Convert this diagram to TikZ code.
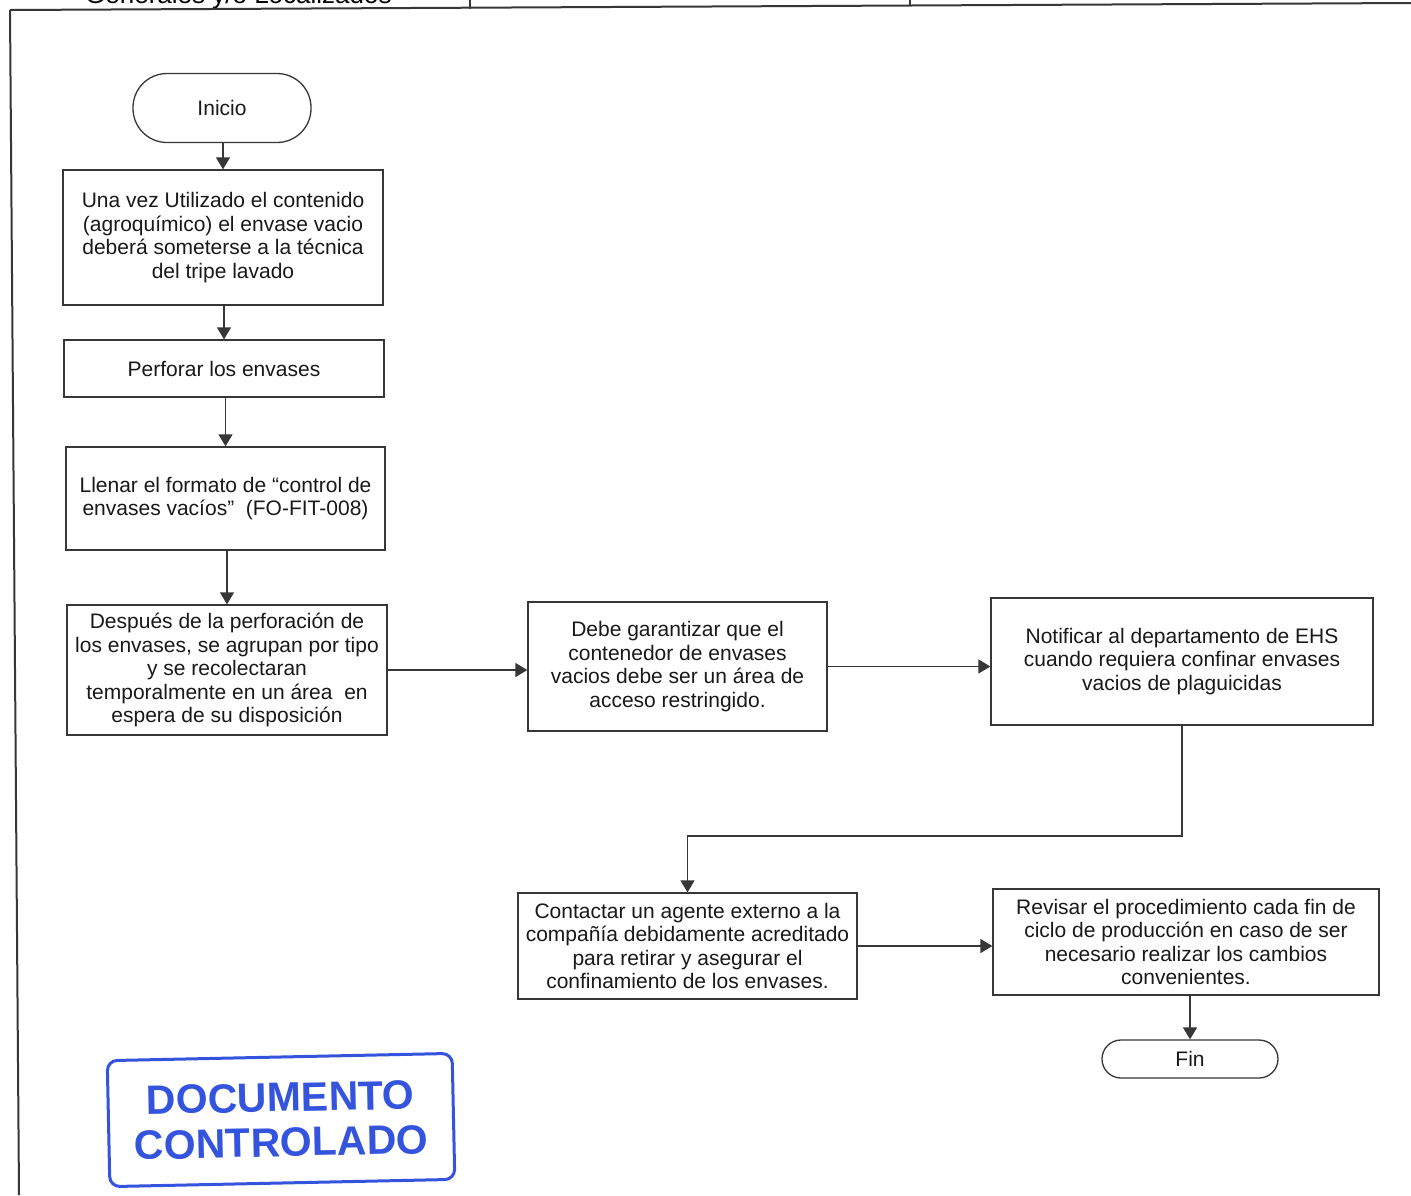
\documentclass[tikz,border=0pt]{standalone}
\usepackage{fontspec}
\newfontfamily\arialf{Liberation Sans}
\usetikzlibrary{arrows.meta}
\definecolor{stampblue}{RGB}{52,84,222}
\definecolor{linegray}{RGB}{55,55,55}
\tikzset{
  proc/.style={draw=linegray, line width=1.3pt, align=center, inner sep=0pt,
    font=\arialf\fontsize{21}{23.5}\selectfont, text=black!90},
  term/.style={proc},
  arr/.style={draw=linegray, line width=1.3pt, -{Triangle[length=12pt,width=14pt]}},
  frame/.style={draw=linegray, line width=2pt},
  stamp/.style={draw=stampblue, line width=3pt, rounded corners=10pt, text=stampblue,
    align=center, inner sep=0pt, font=\arialf\bfseries\fontsize{41}{45}\selectfont}
}
\begin{document}
\begin{tikzpicture}[x=1pt,y=-1pt]
\useasboundingbox (0,0) rectangle (1411,1195);
\clip (0,0) rectangle (1411,1195);
\fill[white] (0,0) rectangle (1411,1195);
% header remnants (cut off at the top edge, as in the reference)
\node[anchor=base west, inner sep=0pt, font=\arialf\fontsize{26}{28}\selectfont] (hdr) at (85,3.5) {Generales y/o Localizados};
\draw[frame] (10,10) -- (1411,3);
\draw[frame] (10,10) -- (19,1195);
\draw[frame] (470,0) -- (470,9);
\draw[frame] (910,0) -- (910,6);
% nodes
\node[term, minimum width=178pt, minimum height=69pt, rounded corners=34pt] (ini) at (222,108) {Inicio};
\node[proc, minimum width=320pt, minimum height=135pt] (b1) at (223,237.5) {Una vez Utilizado el contenido\\(agroquímico) el envase vacio\\deberá someterse a la técnica\\del tripe lavado};
\node[proc, minimum width=320pt, minimum height=57pt] (b2) at (224,368.5) {Perforar los envases};
\node[proc, minimum width=319pt, minimum height=103pt] (b3) at (225.5,498.5) {Llenar el formato de “control de\\envases vacíos”\ \ (FO-FIT-008)};
\node[proc, minimum width=320pt, minimum height=130pt] (b4) at (227,670) {Después de la perforación de\\los envases, se agrupan por tipo\\y se recolectaran\\temporalmente en un área\ \ en\\espera de su disposición};
\node[proc, minimum width=299pt, minimum height=129pt] (b5) at (677.5,666.5) {Debe garantizar que el\\contenedor de envases\\vacios debe ser un área de\\acceso restringido.};
\node[proc, minimum width=382pt, minimum height=127pt] (b6) at (1182,661.5) {Notificar al departamento de EHS\\cuando requiera confinar envases\\vacios de plaguicidas};
\node[proc, minimum width=339pt, minimum height=106pt] (b7) at (687.5,946) {Contactar un agente externo a la\\compañía debidamente acreditado\\para retirar y asegurar el\\confinamiento de los envases.};
\node[proc, minimum width=386pt, minimum height=106pt] (b8) at (1186,942) {Revisar el procedimiento cada fin de\\ciclo de producción en caso de ser\\necesario realizar los cambios\\convenientes.};
\node[term, minimum width=176pt, minimum height=38pt, rounded corners=19pt] (fin) at (1190,1059) {Fin};
% connectors
\draw[arr] (b1.north |- ini.south) -- (b1.north);
\draw[arr] (b2.north |- b1.south) -- (b2.north);
\draw[arr] (b3.north |- b2.south) -- (b3.north);
\draw[arr] (b4.north |- b3.south) -- (b4.north);
\draw[arr] (b4.east) -- (b4.east -| b5.west);
\draw[arr] (b5.east) -- (b5.east -| b6.west);
\coordinate (turn) at (1182,836);
\draw[arr] (b6.south) -- (turn) -| (b7.north);
\draw[arr] (b7.east) -- (b7.east -| b8.west);
\draw[arr] (fin.north |- b8.south) -- (fin.north);
% stamp
\node[stamp, minimum width=345pt, minimum height=126pt, rotate=1.2] (stmp) at (281,1120) {DOCUMENTO\\CONTROLADO};
\end{tikzpicture}
\end{document}
